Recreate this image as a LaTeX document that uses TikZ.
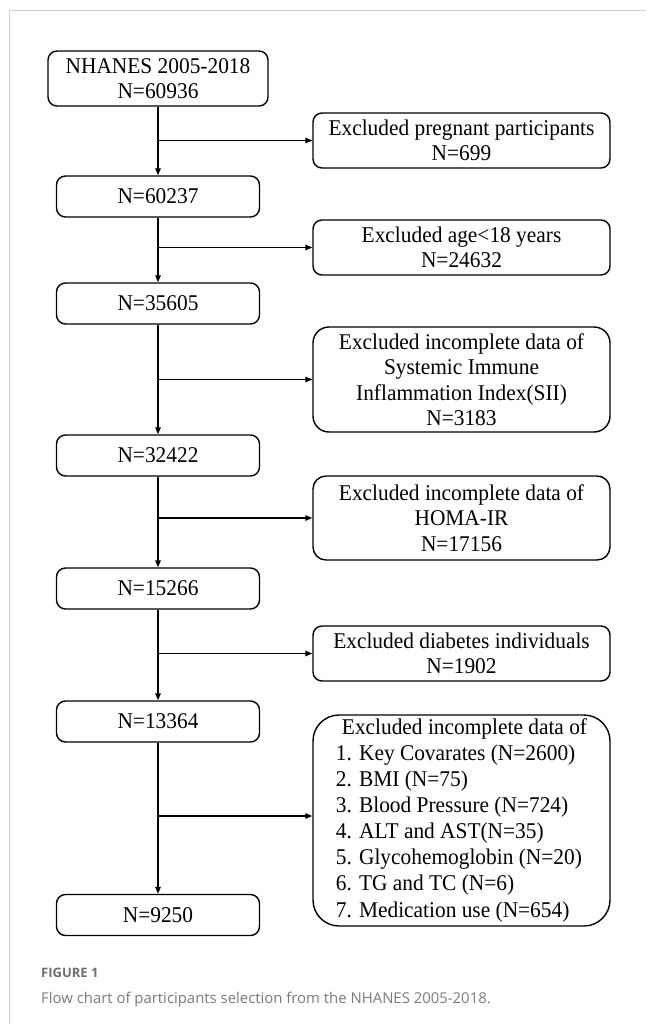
\documentclass[tikz,border=0pt]{standalone}
\usepackage{fontspec}
\setmainfont{Liberation Serif}[FakeStretch=0.95]
\newfontfamily\capfont{Open Sans}
\usetikzlibrary{arrows.meta}
\newcommand\mainfs{\fontsize{22.5}{25.5}\selectfont}
\definecolor{framegray}{HTML}{D0D0D0}
\definecolor{capgray}{HTML}{7A7A7A}
\definecolor{figgray}{HTML}{6E6E6E}
\begin{document}
\begin{tikzpicture}[x=1pt,y=-1pt,
  box/.style={draw, line width=1.4pt, rounded corners=9pt, inner sep=0pt, align=center, font=\mainfs},
  mainbox/.style={box, minimum width=203pt, minimum height=41pt},
  exbox/.style={box, minimum width=297pt},
  conn/.style={line width=1.4pt, -{Triangle[length=7pt,width=5.5pt]}},
  framec/.style={draw=framegray, line width=1pt}]
\useasboundingbox (0,0) rectangle (646,1024);
\draw[framec] (9,1024) -- (9,11) -- (646,11);
% main column
\node[box, minimum width=220pt, minimum height=55pt] (b1) at (158,78.5) {NHANES 2005-2018\\N=60936};
\node[mainbox] (b2) at (158,196.5) {N=60237};
\node[mainbox] (b3) at (158,303.5) {N=35605};
\node[mainbox] (b4) at (158,455.5) {N=32422};
\node[mainbox] (b5) at (158,588.5) {N=15266};
\node[mainbox] (b6) at (158,721.5) {N=13364};
\node[mainbox] (b7) at (158,915) {N=9250};
% exclusion boxes
\node[exbox, minimum height=55pt] (e1) at (461.5,140.5) {Excluded pregnant participants\\N=699};
\node[exbox, minimum height=55pt] (e2) at (461.5,247.5) {Excluded age<18 years\\N=24632};
\node[exbox, minimum height=105pt, rounded corners=16pt] (e3) at (461.5,379.5) {Excluded incomplete data of\\Systemic Immune\\Inflammation Index(SII)\\N=3183};
\node[exbox, minimum height=84pt, rounded corners=13pt] (e4) at (461.5,518) {Excluded incomplete data of\\HOMA-IR\\N=17156};
\node[exbox, minimum height=55pt] (e5) at (461.5,653.5) {Excluded diabetes individuals\\N=1902};
\node[exbox, minimum height=211pt, rounded corners=26pt] (e6) at (461.5,820.5) {\fontsize{22.5}{26.1}\selectfont\begin{tabular}{@{}l@{}}\hspace{6pt}Excluded incomplete data of\\1. Key Covarates (N=2600)\\2. BMI (N=75)\\3. Blood Pressure (N=724)\\4. ALT and AST(N=35)\\5. Glycohemoglobin (N=20)\\6. TG and TC (N=6)\\7. Medication use (N=654)\end{tabular}};
% vertical connectors
\draw[conn] (b1) -- (b2);
\draw[conn] (b2) -- (b3);
\draw[conn] (b3) -- (b4);
\draw[conn] (b4) -- (b5);
\draw[conn] (b5) -- (b6);
\draw[conn] (b6) -- (b7);
% horizontal connectors
\draw[conn] (b1 |- e1) -- (e1);
\draw[conn] (b2 |- e2) -- (e2);
\draw[conn] (b3 |- e3) -- (e3);
\draw[conn] (b4 |- e4) -- (e4);
\draw[conn] (b5 |- e5) -- (e5);
\coordinate (j6) at (158,816);
\draw[conn] (j6) -- (j6 -| e6.west);
% caption
\node[anchor=base west, inner sep=0pt, text=figgray, font={\capfont\fontsize{13}{15}\selectfont\bfseries}] (fig) at (41,977) {FIGURE 1};
\node[anchor=base west, inner sep=0pt, text=capgray, font={\capfont\fontsize{14.9}{17}\selectfont}] (cap) at (41,1003) {Flow chart of participants selection from the NHANES 2005-2018.};
\end{tikzpicture}
\end{document}
